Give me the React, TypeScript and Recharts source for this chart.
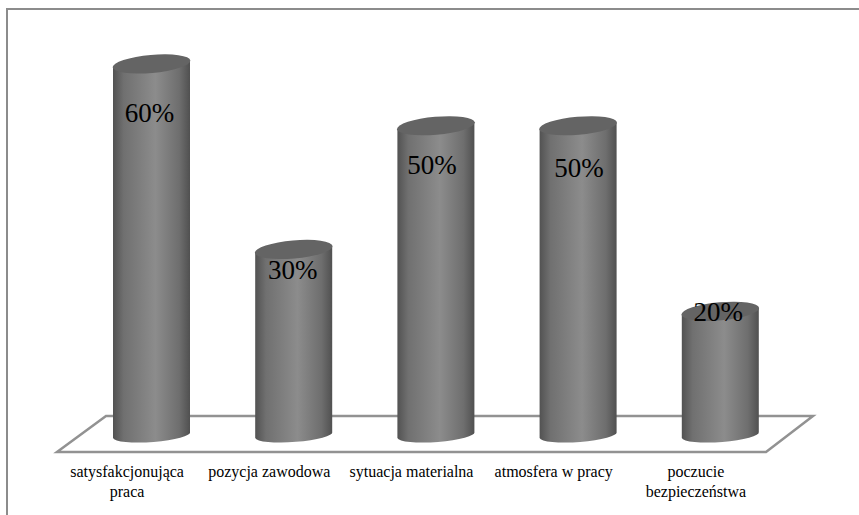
import React from 'react';
import { BarChart, Bar, XAxis, YAxis, ReferenceArea, LabelList } from 'recharts';

const categories = [
  'satysfakcjonująca praca',
  'pozycja zawodowa',
  'sytuacja materialna',
  'atmosfera w pracy',
  'poczucie bezpieczeństwa',
];
const shares = [60, 30, 50, 50, 20];

// where each percent label sits relative to the top middle of its cylinder
const labelDrops = [49, 21, 39, 42, 1];
const labelShifts = [-2, -1, -4, 1, -2];

const chartData = categories.map((name, i) => ({ name, share: shares[i] }));

const FONT = '"Liberation Serif", "Times New Roman", serif';

// tilted ellipse ends, same as the old office 3d look
const Cylinder = (props: any) => {
  const { x, y, width, height } = props;
  const rx = width / 2;
  const cx = x + rx;
  const bottom = y + height;
  const tilt = 3;
  const side = [
    `M${x} ${y + tilt}`,
    `L${x} ${bottom + tilt}`,
    `A${rx} 7 -4 0 0 ${x + width} ${bottom - tilt}`,
    `L${x + width} ${y - tilt}`,
    'Z',
  ].join(' ');
  return (
    <g>
      <path d={side} fill="url(#cylinderSide)" />
      <ellipse cx={cx} cy={y} rx={rx + 0.5} ry={9} fill="#646464" transform={`rotate(-5 ${cx} ${y})`} />
    </g>
  );
};

const Floor = (props: any) => {
  const { x, y, width, height } = props;
  const inset = 24;
  const points = [
    [x + inset + 2, y],
    [x + width + inset - 2, y],
    [x + width - inset - 1, y + height],
    [x - inset + 1, y + height],
  ]
    .map((p) => p.join(','))
    .join(' ');
  return <polygon points={points} fill="#ffffff" stroke="#929292" strokeWidth={2.5} />;
};

const CategoryTick = (props: any) => {
  const { x, y, payload } = props;
  const words = String(payload.value);
  const lines = words.length > 20 ? words.split(' ') : [words];
  return (
    <text x={x - 24} y={y + 17} textAnchor="middle" fontFamily={FONT} fontSize={16} fill="#000000">
      {lines.map((line, i) => (
        <tspan key={line} x={x - 24} dy={i === 0 ? 0 : 19.5}>
          {line}
        </tspan>
      ))}
    </text>
  );
};

const PercentLabel = (props: any) => {
  const { x, y, width, value, index } = props;
  return (
    <text
      x={x + width / 2 + labelShifts[index]}
      y={y + labelDrops[index] + 9}
      textAnchor="middle"
      fontFamily={FONT}
      fontSize={27}
      fill="#000000"
    >
      {value}%
    </text>
  );
};

export default function App() {
  return (
    <div
      style={{
        position: 'absolute',
        left: 0,
        top: 0,
        width: 859,
        height: 515,
        background: '#ffffff',
        overflow: 'hidden',
      }}
    >
      <div
        style={{
          position: 'absolute',
          left: 6,
          top: 8,
          width: 860,
          height: 520,
          border: '2px solid #8c8c8c',
        }}
      />
      <BarChart
        style={{ position: 'absolute', left: 0, top: 0 }}
        width={859}
        height={515}
        data={chartData}
        margin={{ top: 33, right: 68, bottom: 0, left: 80 }}
        barCategoryGap={0}
      >
        <defs>
          <linearGradient id="cylinderSide" x1="0" y1="0" x2="1" y2="0">
            <stop offset="0%" stopColor="#525252" />
            <stop offset="14%" stopColor="#707070" />
            <stop offset="55%" stopColor="#8c8c8c" />
            <stop offset="86%" stopColor="#6e6e6e" />
            <stop offset="100%" stopColor="#505050" />
          </linearGradient>
        </defs>
        <XAxis
          dataKey="name"
          axisLine={false}
          tickLine={false}
          interval={0}
          height={63}
          tick={<CategoryTick />}
        />
        <YAxis hide domain={[-2.75, 65]} />
        <ReferenceArea y1={-2.75} y2={3.07} shape={<Floor />} ifOverflow="visible" />
        <Bar dataKey="share" barSize={77} shape={<Cylinder />} isAnimationActive={false}>
          <LabelList dataKey="share" content={<PercentLabel />} />
        </Bar>
      </BarChart>
    </div>
  );
}
